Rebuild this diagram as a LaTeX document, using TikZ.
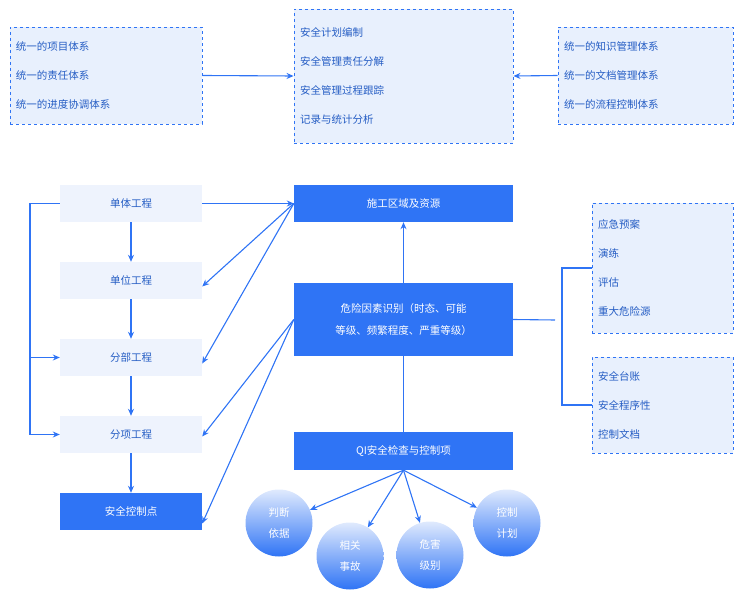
\documentclass[tikz,border=0pt]{standalone}
\usepackage{fontspec}
\setmainfont{Noto Sans CJK SC}
\usetikzlibrary{arrows.meta,positioning}
\definecolor{mainblue}{HTML}{2F74F5}
\definecolor{paleblue}{HTML}{E8F0FD}
\definecolor{greyblue}{HTML}{EEF3FD}
\begin{document}
\begin{tikzpicture}[x=1pt,y=-1pt,
  line/.style={draw=mainblue,line width=1.1pt},
  arr/.style={line,-{Stealth[length=7pt,width=6pt]}},
  dashbox/.style={draw=mainblue,dashed,line width=0.9pt,fill=paleblue,inner sep=0pt,
    align=left,font=\fontsize{10.5}{29}\selectfont,text=mainblue!80!black},
  lightbox/.style={fill=greyblue,minimum width=142pt,minimum height=37pt,inner sep=0pt,
    font=\fontsize{10.5}{13}\selectfont,text=mainblue!80!black},
  bluebox/.style={fill=mainblue,minimum width=219pt,inner sep=0pt,text=white,align=center,
    font=\fontsize{10.5}{22}\selectfont},
  ball/.style={circle,minimum size=67pt,inner sep=0pt,top color=mainblue!15,bottom color=mainblue,
    text=white,align=center,font=\fontsize{10.5}{21}\selectfont}]
\useasboundingbox (0,0) rectangle (742,596);

% top row
\node[dashbox,minimum width=192pt,minimum height=97pt,text width=180pt] (sys) at (106,75.5)
  {统一的项目体系\\统一的责任体系\\统一的进度协调体系};
\node[dashbox,minimum width=219pt,minimum height=134pt,text width=207pt] (plan) at (403.5,76)
  {安全计划编制\\安全管理责任分解\\安全管理过程跟踪\\记录与统计分析};
\node[dashbox,minimum width=175pt,minimum height=97pt,text width=163pt] (know) at (645.5,75.5)
  {统一的知识管理体系\\统一的文档管理体系\\统一的流程控制体系};
\draw[arr] (sys.east) -- (plan.west);
\draw[arr] (know.west) -- (plan.east);

% left column
\node[lightbox] (dt) at (131,203.5) {单体工程};
\node[lightbox] (dw) at (131,280.5) {单位工程};
\node[lightbox] (fb) at (131,357.5) {分部工程};
\node[lightbox] (fx) at (131,434.5) {分项工程};
\node[lightbox,fill=mainblue,text=white] (kz) at (131,511.5) {安全控制点};
\draw[arr] (dt) -- (dw);
\draw[arr] (dw) -- (fb);
\draw[arr] (fb) -- (fx);
\draw[arr] (fx) -- (kz);
\coordinate (lb) at (30,434.5);
\draw[arr] (dt.west) -| (lb) -- (fx.west);
\draw[arr] (fb.west -| lb) -- (fb.west);

% middle column
\node[bluebox,minimum height=37pt] (sg) at (403.5,203.5) {施工区域及资源};
\node[bluebox,minimum height=73pt] (wx) at (403.5,319.5) {危险因素识别（时态、可能\\等级、频繁程度、严重等级）};
\node[bluebox,minimum height=38pt] (qi) at (403.5,451) {QI安全检查与控制项};
\draw[arr] (wx) -- (sg);
\draw[line] (qi) -- (wx);
\draw[arr] (dt.east) -- (sg.west);
\draw[arr] (sg.west) -- ([yshift=-6pt]dw.east);
\draw[arr] (sg.west) -- ([yshift=-6pt]fb.east);
\draw[arr] (wx.west) -- ([yshift=-2pt]fx.east);
\draw[arr] (wx.west) -- ([yshift=-12pt]kz.east);

% right side
\node[dashbox,minimum width=141pt,minimum height=130pt,text width=129pt] (yj) at (662.5,268)
  {应急预案\\演练\\评估\\重大危险源};
\node[dashbox,minimum width=141pt,minimum height=96pt,text width=129pt] (tz) at (662.5,405)
  {安全台账\\安全程序性\\控制文档};
\coordinate (rb) at (555,320);
\coordinate (rt) at (562,268);
\draw[line] (wx.east) -- (rb);
\draw[line] (yj.west) -- (rt) |- (tz.west);

% balls
\node[ball] (pd) at (279,523) {判断\\依据};
\node[ball] (xg) at (350,556) {相关\\事故};
\node[ball] (wh) at (430,555) {危害\\级别};
\node[ball] (jh) at (507,523) {控制\\计划};
\foreach \b in {pd,xg,wh,jh}
  \draw[arr] (qi.south) -- (\b);
\end{tikzpicture}
\end{document}
